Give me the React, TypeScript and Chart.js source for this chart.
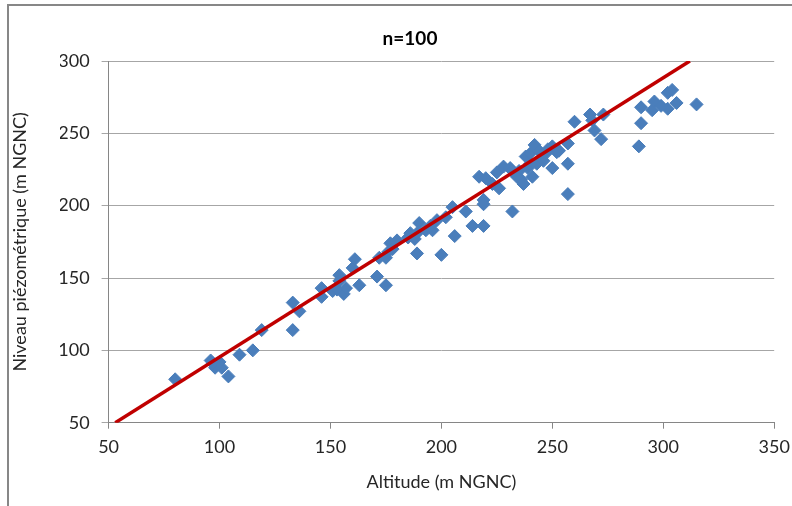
import React, { useEffect, useRef } from "react";
import { Chart, registerables } from "chart.js";

Chart.register(...registerables);

const TITLE = "n=100";
const X_TITLE = "Altitude (m NGNC)";
const Y_TITLE = "Niveau piézométrique (m NGNC)";

const altitude = [
  80, 96, 98, 101, 104, 109, 115, 119, 133, 136, 133, 146, 146, 151,
  153, 156, 154, 160, 161, 163, 171, 172, 175, 175, 177, 178, 180, 185,
  188, 189, 189, 190, 193, 196, 198, 200, 202, 205, 206, 211, 214, 217,
  219, 219, 219, 220, 225, 226, 228, 231, 232, 232, 235, 236, 237, 238,
  240, 241, 242, 243, 245, 247, 250, 250, 252, 253, 257, 257, 257, 260,
  267, 268, 269, 272, 273, 290, 290, 289, 295, 296, 302, 304, 302, 306,
  315, 97, 100, 154, 157, 176, 186, 195, 223, 239, 240, 244, 246, 248,
  234, 299,
];
const niveau = [
  80, 93, 88, 88, 82, 97, 100, 114, 133, 127, 114, 143, 137, 141,
  142, 139, 152, 157, 163, 145, 151, 164, 164, 145, 174, 170, 176, 178,
  177, 181, 167, 188, 183, 183, 190, 166, 192, 199, 179, 196, 186, 220,
  186, 204, 201, 219, 223, 212, 227, 226, 196, 224, 224, 218, 215, 234,
  236, 220, 242, 229, 233, 236, 241, 226, 237, 238, 243, 229, 208, 258,
  263, 259, 252, 246, 263, 268, 257, 241, 266, 272, 278, 280, 267, 271,
  270, 91, 92, 148, 143, 168, 181, 186, 215, 226, 229, 238, 231, 239,
  220, 269,
];

const trendX = [53, 312];
const trendY = [50, 300];

const xTicks = [50, 100, 150, 200, 250, 300, 350];
const yTicks = [50, 100, 150, 200, 250, 300];

const FONT = "Lato, 'Open Sans', sans-serif";

export default function App() {
  const ref = useRef<HTMLCanvasElement>(null);

  useEffect(() => {
    document.body.style.margin = "0";
    const canvas = ref.current;
    if (!canvas) return;

    const overlay = {
      id: "overlay",
      beforeDraw(chart: any) {
        const ctx = chart.ctx;
        ctx.save();
        ctx.fillStyle = "#ffffff";
        ctx.fillRect(0, 0, chart.width, chart.height);
        ctx.strokeStyle = "#878787";
        ctx.lineWidth = 2;
        ctx.beginPath();
        ctx.moveTo(8, chart.height + 5);
        ctx.lineTo(8, 5);
        ctx.lineTo(chart.width + 5, 5);
        ctx.stroke();
        ctx.restore();
      },
      afterDraw(chart: any) {
        const ctx = chart.ctx;
        const area = chart.chartArea;
        ctx.save();
        ctx.fillStyle = "#000000";
        ctx.textAlign = "center";
        ctx.textBaseline = "middle";
        ctx.font = `bold 19px ${FONT}`;
        ctx.fillText(TITLE, 410, 39);
        ctx.fillStyle = "#262626";
        ctx.font = `18px ${FONT}`;
        ctx.fillText(X_TITLE, (area.left + area.right) / 2, 482);
        ctx.translate(20, (area.top + area.bottom) / 2);
        ctx.rotate(-Math.PI / 2);
        ctx.fillText(Y_TITLE, 0, 0);
        ctx.restore();
      },
    };

    const noPad = (s: any) => {
      s.paddingLeft = 0;
      s.paddingRight = 0;
      s.paddingTop = 0;
      s.paddingBottom = 0;
    };

    const chart = new Chart(canvas, {
      type: "scatter",
      data: {
        datasets: [
          {
            type: "line",
            label: "trend",
            data: trendX.map((x, i) => ({ x, y: trendY[i] })),
            borderColor: "#C00000",
            borderWidth: 3.5,
            pointRadius: 0,
            fill: false,
            order: 0,
          } as any,
          {
            label: "points",
            data: altitude.map((x, i) => ({ x, y: niveau[i] })),
            pointStyle: "rectRot",
            pointRadius: 6.5,
            pointBackgroundColor: "#4A7EBB",
            pointBorderColor: "#4A7EBB",
            pointBorderWidth: 1,
            order: 1,
          },
        ],
      },
      options: {
        animation: false,
        responsive: false,
        maintainAspectRatio: false,
        layout: { padding: { left: 60, right: 17.8, top: 61, bottom: 43.3 } },
        plugins: {
          legend: { display: false },
          title: { display: false },
          tooltip: { enabled: false },
        },
        scales: {
          x: {
            type: "linear",
            min: xTicks[0],
            max: xTicks[xTicks.length - 1],
            afterBuildTicks: (s: any) => {
              s.ticks = xTicks.map((v) => ({ value: v }));
            },
            afterFit: (s: any) => {
              s.height = 40;
              noPad(s);
            },
            grid: {
              drawOnChartArea: false,
              drawTicks: true,
              tickLength: 6,
              color: "#868686",
            },
            border: { display: true, color: "#868686", width: 1 },
            ticks: {
              padding: 8,
              color: "#262626",
              font: { family: FONT, size: 18 },
              maxRotation: 0,
            },
          },
          y: {
            type: "linear",
            min: yTicks[0],
            max: yTicks[yTicks.length - 1],
            afterBuildTicks: (s: any) => {
              s.ticks = yTicks.map((v) => ({ value: v }));
            },
            afterFit: (s: any) => {
              s.width = 48.6;
              noPad(s);
            },
            grid: {
              drawOnChartArea: true,
              drawTicks: true,
              tickLength: 7,
              color: "#A6A6A6",
            },
            border: { display: true, color: "#868686", width: 1 },
            ticks: {
              padding: 12,
              color: "#262626",
              font: { family: FONT, size: 18 },
            },
          },
        },
      },
      plugins: [overlay],
    });

    return () => chart.destroy();
  }, []);

  return (
    <div style={{ position: "absolute", left: 0, top: 0, width: 792, height: 506 }}>
      <canvas ref={ref} width={792} height={506} style={{ width: 792, height: 506, display: "block" }} />
    </div>
  );
}
